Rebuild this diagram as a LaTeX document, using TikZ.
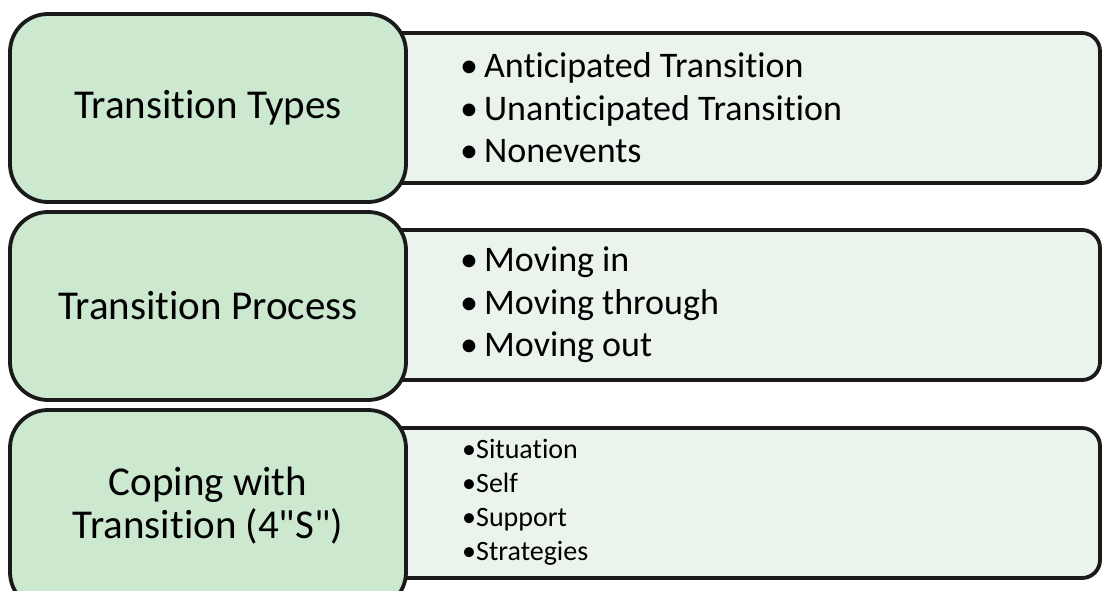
\documentclass[tikz,border=0pt]{standalone}
\usepackage{fontspec}
\setmainfont{Carlito}[Ligatures=NoCommon]
\newfontfamily\rawcarlito{Carlito}[Ligatures=NoCommon]
\newcommand\strq{{\rawcarlito\char34}}
\definecolor{headfill}{HTML}{CCE8CF}
\definecolor{bodyfill}{HTML}{EAF4EC}
\definecolor{edge}{HTML}{1A1A1A}
\tikzset{
  headbox/.style={draw=edge, line width=3.8pt, fill=headfill, rounded corners=38pt},
  bodybox/.style={draw=edge, line width=3.8pt, fill=bodyfill, rounded corners=18pt},
  headtext/.style={inner sep=0pt, align=center, font=\fontsize{41}{43}\selectfont, text=black},
  bodytext/.style={inner sep=0pt, anchor=west, align=left, font=\fontsize{36}{42.5}\selectfont, text=black},
  smalltext/.style={inner sep=0pt, anchor=west, align=left, font=\fontsize{28}{34}\selectfont, text=black}
}
\begin{document}
\begin{tikzpicture}[x=1pt,y=-1pt]
\useasboundingbox (0,0) rectangle (1102,590);
\begin{scope}
\clip (0,0) rectangle (1102,590);
% row 1
\draw[bodybox] (380,33) rectangle (1100,183);
\draw[headbox] (10,14) rectangle (406,202);
\node[headtext] (h1) at (208,108) {Transition Types};
\node[bodytext] (b1) at (460,108) {•\hspace{6pt}Anticipated Transition\\•\hspace{6pt}Unanticipated Transition\\•\hspace{6pt}Nonevents};
% row 2
\draw[bodybox] (380,230) rectangle (1100,380);
\draw[headbox] (10,212) rectangle (406,400);
\node[headtext] (h2) at (208,306) {Transition Process};
\node[bodytext] (b2) at (460,305) {•\hspace{6pt}Moving in\\•\hspace{6pt}Moving through\\•\hspace{6pt}Moving out};
% row 3
\draw[bodybox] (380,428) rectangle (1100,578);
\draw[headbox] (10,410) rectangle (406,610);
\node[headtext] (h3) at (208,506) {Coping with\\Transition (4\strq S\strq)};
\node[smalltext] (b3) at (462,502) {•Situation\\•Self\\•Support\\•Strategies};
\end{scope}
\end{tikzpicture}
\end{document}
